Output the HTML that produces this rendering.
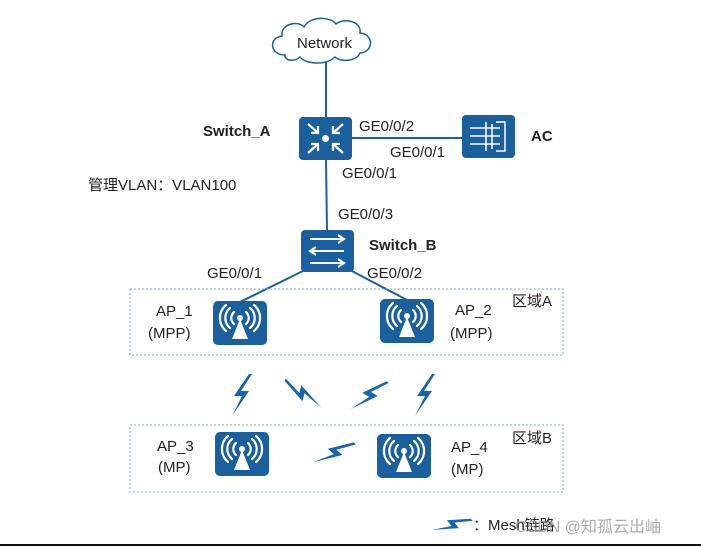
<!DOCTYPE html>
<html><head><meta charset="utf-8"><style>
body{margin:0;background:#fff}
svg{display:block}
text{font-family:"Liberation Sans","Noto Sans CJK SC",sans-serif;fill:#222;font-size:15px}
.b{font-weight:bold}
</style></head><body>
<svg width="701" height="547" viewBox="0 0 701 547" xmlns="http://www.w3.org/2000/svg">
<defs>
<polygon id="bolt" points="9,-21 -6,1 2,1 -8,21 9,-4 1,-4 12,-21" fill="#1765b0"/>
<g id="ap">
<rect x="0" y="0" width="54" height="44" rx="5" fill="#1a5f9e"/>
<polygon points="27,18 19,38 35,38" fill="#fff"/>
<circle cx="27" cy="17" r="3" fill="#fff"/>
<g fill="none" stroke="#fff" stroke-width="2.2" stroke-linecap="round">
<path d="M21,11 A8,8 0 0 0 21,23"/><path d="M33,11 A8,8 0 0 1 33,23"/>
<path d="M17,7 A13,13 0 0 0 17,27"/><path d="M37,7 A13,13 0 0 1 37,27"/>
<path d="M13,4 A17,17 0 0 0 13,30"/><path d="M41,4 A17,17 0 0 1 41,30"/>
</g>
</g>
</defs>
<g stroke="#1a5f9e" stroke-width="2">
<line x1="326" y1="62" x2="326" y2="118"/>
<line x1="352" y1="138" x2="462" y2="138"/>
<line x1="326" y1="160" x2="327" y2="231"/>
<line x1="305" y1="270" x2="240" y2="302"/>
<line x1="350" y1="270" x2="407" y2="300"/>
</g>
<path d="M285,55 C270,55 268,38 282,36 C280,24 298,20 304,27 C310,16 330,16 336,24 C345,17 362,22 360,33 C374,34 374,52 360,53 C356,62 340,62 335,57 C325,66 305,64 300,57 C295,62 284,61 285,55 Z" fill="#fff" stroke="#1a5f9e" stroke-width="1.5"/>
<text x="297" y="48" font-size="15">Network</text>
<rect x="299" y="117" width="53" height="43" rx="4" fill="#1a5f9e"/>
<circle cx="325.5" cy="138.5" r="3.5" fill="#fff"/>
<g stroke="#fff" stroke-width="2.2" fill="none">
<path d="M308,124 L318,133 M318,126 V133 H311"/>
<path d="M343,124 L333,133 M333,126 V133 H340"/>
<path d="M308,153 L318,144 M318,151 V144 H311"/>
<path d="M343,153 L333,144 M333,151 V144 H340"/>
</g>
<text x="203" y="136" class="b">Switch_A</text>
<rect x="462" y="115" width="53" height="43" rx="4" fill="#1a5f9e"/>
<g stroke="#fff" stroke-width="1.5" fill="none">
<path d="M496,122 H505 V151 H496"/>
<path d="M470,128 H500 M470,136 H500 M470,144 H500 M486,122 V151 M492,124 V149"/>
</g>
<text x="531" y="141" class="b">AC</text>
<text x="359" y="131">GE0/0/2</text>
<text x="390" y="157">GE0/0/1</text>
<text x="342" y="178">GE0/0/1</text>
<text x="88" y="190">管理VLAN：VLAN100</text>
<text x="338" y="219">GE0/0/3</text>
<rect x="301" y="230" width="53" height="42" rx="4" fill="#1a5f9e"/>
<g stroke="#fff" stroke-width="2" fill="none">
<path d="M310,239 H344 M338,235 L344,239 L338,243"/>
<path d="M344,251 H310 M316,247 L310,251 L316,255"/>
<path d="M310,263 H344 M338,259 L344,263 L338,267"/>
</g>
<text x="369" y="250" class="b">Switch_B</text>
<text x="207" y="278">GE0/0/1</text>
<text x="367" y="278">GE0/0/2</text>
<rect x="130" y="289" width="433" height="66" fill="none" stroke="#7aa8d8" stroke-width="1" stroke-dasharray="2,2"/>
<rect x="130" y="425" width="433" height="67" fill="none" stroke="#7aa8d8" stroke-width="1" stroke-dasharray="2,2"/>
<text x="512" y="306">区域A</text>
<text x="512" y="443">区域B</text>
<use href="#ap" x="213" y="301"/>
<use href="#ap" x="380" y="299"/>
<use href="#ap" x="215" y="432"/>
<use href="#ap" x="377" y="434"/>
<text x="156" y="316">AP_1</text><text x="148" y="338">(MPP)</text>
<text x="455" y="315">AP_2</text><text x="450" y="338">(MPP)</text>
<text x="157" y="451">AP_3</text><text x="158" y="472">(MP)</text>
<text x="451" y="452">AP_4</text><text x="451" y="474">(MP)</text>
<use href="#bolt" transform="translate(240,395)"/>
<use href="#bolt" transform="translate(303,395) rotate(-76)"/>
<use href="#bolt" transform="translate(368,395) rotate(30)"/>
<use href="#bolt" transform="translate(423,395)"/>
<use href="#bolt" transform="translate(333,452) rotate(42)"/>
<use href="#bolt" transform="translate(451,524) rotate(52) scale(0.9)"/>
<text x="473" y="530">：Mesh链路</text>
<text x="515" y="532" style="fill:#999;font-size:16px;opacity:.8">CSDN @知孤云出岫</text>
<rect x="0" y="544" width="701" height="2" fill="#111"/>
</svg>
</body></html>
